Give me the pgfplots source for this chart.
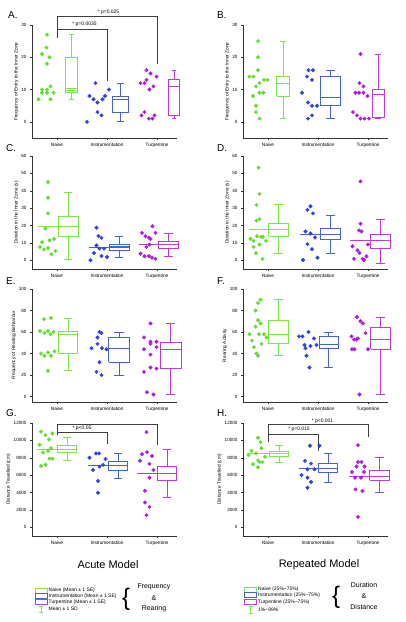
\documentclass[border=0pt]{standalone}
\usepackage{pgfplots}
\pgfplotsset{compat=1.18}
\usepackage{fontspec}
\setmainfont{Liberation Sans}
\newcommand\fs[1]{\fontsize{#1}{#1}\selectfont}
\definecolor{gP}{RGB}{102,221,51}
\definecolor{gB}{RGB}{125,230,75}
\definecolor{bP}{RGB}{51,68,221}
\definecolor{bB}{RGB}{68,100,210}
\definecolor{pP}{RGB}{170,34,221}
\definecolor{pB}{RGB}{185,60,225}
\pgfplotsset{
  panel/.style={
    scale only axis, width=145bp, height=113bp,
    anchor=south west,
    xmin=-0.5, xmax=2.4,
    axis x line*=bottom, axis y line*=left,
    axis line style={black!80, line width=0.6bp},
    xtick={0,1,2}, xticklabels={Naive,Instrumentation,Turpentine},
    tick align=outside, major tick length=2bp,
    tick style={black!80, line width=0.5bp},
    ticklabel style={font=\fs{4.6}},
    xticklabel style={font=\fs{4.8}},
    ylabel style={font=\fs{4.8}, yshift=-4bp},
    /pgf/number format/assume math mode=true,
    /pgf/number format/1000 sep={},
    scaled y ticks=false,
    clip=false,
  },
  pts/.style={only marks, mark=*, mark size=1.8bp},
  brk/.style={black!75, line width=0.7bp},
  bxl/.style={line width=0.8bp, line join=miter, mark=none},
}
% box: colour, position, width, lower whisker, lower quartile, median, upper quartile, upper whisker
\newcommand\bx[8]{%
  \pgfmathsetmacro\xa{#2-#3/2}\pgfmathsetmacro\xb{#2+#3/2}%
  \pgfmathsetmacro\ca{#2-#3*0.22}\pgfmathsetmacro\cb{#2+#3*0.22}%
  \edef\tmp{%
    \noexpand\addplot[#1, bxl] coordinates {(\xa,#5) (\xb,#5) (\xb,#7) (\xa,#7) (\xa,#5)};
    \noexpand\addplot[#1, bxl] coordinates {(\xa,#6) (\xb,#6)};
    \noexpand\addplot[#1, bxl] coordinates {(#2,#7) (#2,#8)};
    \noexpand\addplot[#1, bxl] coordinates {(#2,#5) (#2,#4)};
    \noexpand\addplot[#1, bxl] coordinates {(\ca,#8) (\cb,#8)};
    \noexpand\addplot[#1, bxl] coordinates {(\ca,#4) (\cb,#4)};
  }\tmp}
\newcommand\ml[4]{\addplot[#1, bxl] coordinates {(#2,#4) (#3,#4)};}
\begin{document}
\begin{tikzpicture}
\useasboundingbox (0,0) rectangle (406bp,622bp);

% ---------------- A ----------------
\begin{axis}[panel, at={(32bp,484bp)}, ymin=-5, ymax=30, ytick={0,10,20,30},
  ylabel={Frequency of Entry to the Inner Zone}]
\addplot[pts, gP] coordinates {(-0.20,27) (-0.21,23) (-0.30,21) (-0.15,20) (-0.20,18) (-0.13,11) (-0.30,10) (-0.20,10) (-0.30,9) (-0.20,9) (-0.07,9) (-0.37,7) (-0.13,7)};
\bx{gB}{0.29}{0.24}{7}{9}{10.3}{20}{27}
\ml{gB}{0.17}{0.41}{9.6}
\addplot[pts, bP] coordinates {(0.77,12) (1.04,10) (0.65,8) (0.96,8) (0.73,7) (0.91,7) (0.81,6) (0.81,3) (0.89,2) (0.60,0)};
\bx{bB}{1.27}{0.32}{0}{3}{7}{8}{12}
\addplot[pts, pP] coordinates {(1.79,16) (1.87,15) (1.99,14) (1.79,13) (1.67,12) (1.75,12) (1.93,11) (1.85,10) (1.75,3) (1.69,2) (1.95,2) (1.84,1) (1.91,1)};
\bx{pB}{2.34}{0.22}{1}{2}{11}{13}{16}
\addplot[brk] coordinates {(0,26) (0,28.7) (1,28.7) (1,12.5)};
\addplot[brk] coordinates {(0,28.7) (0,32.6) (2,32.6) (2,18)};
\node[font=\fs{5}] at (axis cs:0.55,30.3) {* p=0.0035};
\node[font=\fs{5}] at (axis cs:1.03,34.0) {* p=0.025};
\end{axis}

% ---------------- B ----------------
\begin{axis}[panel, at={(243bp,484bp)}, ymin=-5, ymax=30, ytick={0,10,20,30},
  ylabel={Frequency of Entry to the Inner Zone}]
\addplot[pts, gP] coordinates {(-0.20,25) (-0.20,20) (-0.20,16) (-0.37,14) (-0.29,14) (-0.08,13) (-0.01,13) (-0.17,12) (-0.24,11) (-0.17,9) (-0.09,9) (-0.30,8) (-0.24,5) (-0.24,3) (-0.17,1)};
\bx{gB}{0.30}{0.26}{1}{8}{12}{14}{25}
\addplot[pts, bP] coordinates {(0.81,16) (0.90,16) (0.78,14) (0.88,13) (0.68,9) (0.80,6) (0.88,5) (0.98,5) (0.88,2) (0.80,1)};
\bx{bB}{1.25}{0.40}{1}{5}{7.5}{14}{16}
\addplot[pts, pP] coordinates {(1.85,21) (1.83,12) (1.91,11) (1.75,9) (1.82,9) (1.91,9) (1.99,8) (1.70,3) (1.78,2) (1.85,1) (1.93,1) (2.02,1)};
\bx{pB}{2.20}{0.24}{1}{1.3}{8.5}{10}{21}
\end{axis}

% ---------------- C ----------------
\begin{axis}[panel, at={(32bp,353bp)}, ymin=-5, ymax=60, ytick={0,10,...,60},
  ylabel={Duration in the Inner Zone (s)}]
\addplot[pts, gP] coordinates {(-0.18,45) (-0.18,36) (-0.18,27) (-0.23,18.3) (-0.06,12.3) (-0.15,11.5) (-0.30,10.4) (-0.34,7.7) (-0.18,7.1) (-0.26,6.2) (-0.03,5.4) (-0.11,3.5)};
\ml{gB}{-0.38}{0.42}{19.6}
\bx{gB}{0.22}{0.40}{0.6}{14}{19.6}{25}{39}
\addplot[pts, bP] coordinates {(0.79,18.7) (0.83,14) (0.89,12.9) (0.79,8.5) (0.85,6.7) (0.94,6.7) (0.74,4.2) (0.89,2.5) (1.00,1.9) (0.67,0)};
\ml{bB}{0.64}{1.44}{7.7}
\bx{bB}{1.24}{0.40}{1.5}{5.8}{8}{9.4}{13.5}
\addplot[pts, pP] coordinates {(1.91,19.6) (1.70,15.8) (1.97,15.8) (1.77,13.8) (1.84,13) (1.87,12.3) (1.79,7.7) (1.85,9) (1.67,3.8) (1.75,2.3) (1.84,2.5) (1.90,1.5) (1.97,0.8)};
\ml{pB}{1.64}{2.43}{9.2}
\bx{pB}{2.23}{0.40}{2.5}{7.1}{9.2}{10.8}{15.4}
\end{axis}

% ---------------- D ----------------
\begin{axis}[panel, at={(243bp,353bp)}, ymin=-5, ymax=60, ytick={0,10,...,60},
  ylabel={Duration in the Inner Zone (s)}]
\addplot[pts, gP] coordinates {(-0.19,53.3) (-0.17,38.2) (-0.23,31.9) (-0.17,23.7) (-0.23,22.8) (-0.22,13.9) (-0.14,13.5) (-0.10,13.5) (-0.35,12.4) (-0.29,11.2) (-0.04,11.2) (-0.17,9.1) (-0.29,7.7) (-0.24,4.1) (-0.11,0.8)};
\ml{gB}{-0.39}{0.40}{17.8}
\bx{gB}{0.21}{0.39}{3.9}{13.7}{17.8}{21.4}{31.9}
\addplot[pts, bP] coordinates {(0.85,31.1) (0.79,29) (0.90,27) (0.75,16.6) (0.85,15.4) (0.94,13.1) (0.79,9.3) (0.88,6.4) (0.99,1.5) (0.70,0.2)};
\ml{bB}{0.63}{1.45}{15}
\bx{bB}{1.25}{0.40}{3.9}{11.8}{15}{18.5}{26}
\addplot[pts, pP] coordinates {(1.85,45.4) (1.85,21) (1.82,17.2) (1.87,16.6) (2.00,9.1) (1.69,8.1) (1.79,5.8) (1.83,4.2) (1.72,0.8) (1.89,0.8) (1.97,2.3) (1.92,0.2)};
\ml{pB}{1.64}{2.46}{11.2}
\bx{pB}{2.25}{0.41}{-1.9}{7}{11.2}{14.7}{23.7}
\end{axis}

% ---------------- E ----------------
\begin{axis}[panel, at={(32bp,220bp)}, ymin=-5, ymax=100, ytick={0,20,...,100},
  ylabel={Frequency of Rearing Behaviour}]
\addplot[pts, gP] coordinates {(-0.12,73) (-0.26,72) (-0.34,61) (-0.18,61) (-0.07,60) (-0.25,59) (-0.13,58) (-0.05,42) (-0.18,41) (-0.32,40) (-0.25,38) (-0.12,38) (-0.18,24)};
\bx{gB}{0.22}{0.39}{24}{40}{58}{61}{73}
\addplot[pts, bP] coordinates {(0.85,60) (0.89,59) (0.81,55) (0.81,49) (0.69,45) (0.90,45) (0.99,44) (0.85,32) (0.79,23) (0.89,20)};
\bx{bB}{1.24}{0.41}{20}{32}{45}{55}{60}
\addplot[pts, pP] coordinates {(1.87,68) (1.74,55) (1.87,51) (1.99,51) (1.87,49) (1.99,46) (1.74,44) (1.87,39) (1.87,27) (1.99,26) (1.74,23) (1.80,4) (1.93,2)};
\bx{pB}{2.27}{0.42}{2}{26}{44}{50}{68}
\end{axis}

% ---------------- F ----------------
\begin{axis}[panel, at={(243bp,220bp)}, ymin=-5, ymax=100, ytick={0,20,...,100},
  ylabel={Rearing Activity}]
\addplot[pts, gP] coordinates {(-0.15,90) (-0.20,87) (-0.25,80) (-0.20,71) (-0.15,68) (-0.25,65) (-0.37,58) (-0.18,58) (-0.08,58) (-0.03,55) (-0.32,52) (-0.13,49) (-0.28,46) (-0.23,40) (-0.20,38)};
\bx{gB}{0.21}{0.39}{38}{49}{58}{71}{90}
\addplot[pts, bP] coordinates {(0.81,60) (0.62,56) (0.69,56) (0.92,54) (0.73,48) (0.97,48) (0.85,47) (0.75,45) (0.77,38) (0.83,27)};
\bx{bB}{1.21}{0.38}{27}{45}{48.4}{56}{60}
\addplot[pts, pP] coordinates {(1.78,74) (1.85,70) (1.90,68) (1.95,59) (1.67,56) (1.80,54) (1.72,53) (1.77,53) (1.68,44) (1.73,44) (2.00,44) (1.83,2)};
\bx{pB}{2.25}{0.39}{2}{44}{53.4}{64}{74}
\end{axis}

% ---------------- G (values in thousands of cm) ----------------
\begin{axis}[panel, at={(32bp,86bp)}, ymin=-1, ymax=12, ytick={0,2,...,12},
  yticklabels={0,2000,4000,6000,8000,10000,12000},
  ylabel={Distance Travelled (cm)}]
\addplot[pts, gP] coordinates {(-0.32,11.0) (-0.09,10.8) (-0.23,10.6) (-0.16,10.1) (-0.35,9.5) (-0.12,9.1) (-0.18,8.8) (-0.28,8.6) (-0.15,7.9) (-0.09,7.9) (-0.23,7.2) (-0.32,7.05)};
\ml{gB}{-0.39}{0.39}{9.0}
\bx{gB}{0.20}{0.38}{7.64}{8.6}{9.0}{9.38}{10.34}
\addplot[pts, bP] coordinates {(0.78,8.5) (0.84,8.5) (0.65,8.0) (0.97,7.85) (0.85,6.98) (0.92,7.18) (0.72,6.6) (0.82,5.32) (0.82,3.98)};
\ml{bB}{0.62}{1.41}{7.1}
\bx{bB}{1.22}{0.39}{5.63}{6.6}{7.1}{7.56}{8.53}
\addplot[pts, pP] coordinates {(1.79,10.95) (1.80,8.65) (1.70,8.4) (1.90,8.2) (1.66,7.65) (1.85,7.3) (1.93,6.6) (1.85,5.7) (1.76,4.2) (1.76,2.85) (1.85,2.35) (1.79,1.4)};
\ml{pB}{1.61}{2.39}{6.21}
\bx{pB}{2.20}{0.38}{3.4}{5.44}{6.21}{6.99}{8.99}
\addplot[brk] coordinates {(0,10.57) (0,11.8) (2,11.8) (2,9.49)};
\addplot[brk] coordinates {(0,10.96) (1,10.96) (1,9.61)};
\node[font=\fs{5}] at (axis cs:0.5,11.42) {* p<0.05};
\end{axis}

% ---------------- H (values in thousands of cm) ----------------
\begin{axis}[panel, at={(243bp,86bp)}, ymin=-1, ymax=12, ytick={0,2,...,12},
  yticklabels={0,2000,4000,6000,8000,10000,12000},
  ylabel={Distance Travelled (cm)}]
\addplot[pts, gP] coordinates {(-0.20,10.3) (-0.15,9.8) (-0.13,9.1) (-0.33,8.8) (-0.24,8.5) (-0.39,8.3) (-0.06,8.1) (-0.20,7.7) (-0.17,7.5) (-0.11,7.5) (-0.30,7.25) (-0.20,6.9)};
\ml{gB}{-0.43}{0.41}{8.49}
\bx{gB}{0.22}{0.38}{7.52}{8.14}{8.49}{8.72}{9.38}
\addplot[pts, bP] coordinates {(0.84,9.38) (1.03,9.38) (0.74,7.64) (0.86,7.33) (0.79,6.68) (0.93,6.68) (0.67,6.02) (0.79,5.71) (0.86,5.21) (0.79,4.55)};
\ml{bB}{0.61}{1.39}{6.79}
\bx{bB}{1.20}{0.38}{5.21}{6.29}{6.79}{7.33}{8.49}
\addplot[pts, pP] coordinates {(1.80,9.45) (1.80,7.52) (1.87,7.52) (1.77,6.99) (1.93,6.99) (1.68,6.37) (1.92,6.37) (1.74,5.71) (1.86,5.71) (1.75,4.36) (1.89,4.17) (1.80,1.2)};
\ml{pB}{1.61}{2.43}{5.9}
\bx{pB}{2.23}{0.40}{3.98}{5.4}{5.9}{6.56}{8.03}
\addplot[brk] coordinates {(0,9.76) (0,11.88) (2,11.88) (2,10.34)};
\addplot[brk] coordinates {(0,10.73) (1,10.73) (1,8.8)};
\node[font=\fs{5}] at (axis cs:0.62,11.23) {* p=0.015};
\node[font=\fs{5}] at (axis cs:1.09,12.25) {* p<0.001};
\end{axis}

% ---------------- panel letters ----------------
\node[anchor=north west, inner sep=0, font=\fs{10}] at (8bp,611bp) {A.};
\node[anchor=north west, inner sep=0, font=\fs{10}] at (217bp,611bp) {B.};
\node[anchor=north west, inner sep=0, font=\fs{10}] at (6bp,478bp) {C.};
\node[anchor=north west, inner sep=0, font=\fs{10}] at (217bp,478bp) {D.};
\node[anchor=north west, inner sep=0, font=\fs{10}] at (6bp,345bp) {E.};
\node[anchor=north west, inner sep=0, font=\fs{10}] at (217bp,345bp) {F.};
\node[anchor=north west, inner sep=0, font=\fs{10}] at (6bp,213bp) {G.};
\node[anchor=north west, inner sep=0, font=\fs{10}] at (217bp,213bp) {H.};

% ---------------- bottom titles and legends ----------------
\node[font=\fs{11}] at (108bp,57bp) {Acute Model};
\node[font=\fs{11}] at (319bp,57bp) {Repeated Model};

\draw[gB, line width=0.8bp] (35bp,29bp) rectangle (47bp,34bp);
\draw[bB, line width=0.8bp] (35bp,23.5bp) rectangle (47bp,28.5bp);
\draw[pB, line width=0.8bp] (35bp,17.5bp) rectangle (47bp,22.5bp);
\draw[gB, line width=0.8bp] (41bp,10bp)--(41bp,15.5bp) (39bp,10bp)--(43bp,10bp) (39bp,15.5bp)--(43bp,15.5bp);
\node[anchor=west, inner sep=0, font=\fs{5}] at (48.5bp,31.5bp) {Naive (Mean ± 1 SE)};
\node[anchor=west, inner sep=0, font=\fs{5}] at (48.5bp,26bp) {Instrumentation (Mean ± 1 SE)};
\node[anchor=west, inner sep=0, font=\fs{5}] at (48.5bp,20bp) {Turpentine (Mean ± 1 SE)};
\node[anchor=west, inner sep=0, font=\fs{5}] at (48.5bp,13bp) {Mean ± 1 SD};
\node[font=\fs{24}] at (126bp,23bp) {\{};
\node[font=\fs{7}, inner sep=0] at (154bp,35bp) {Frequency};
\node[font=\fs{7}, inner sep=0] at (154bp,24bp) {\&};
\node[font=\fs{7}, inner sep=0] at (154bp,13bp) {Rearing};

\draw[gB, line width=0.8bp] (244.5bp,30bp) rectangle (256.5bp,35bp);
\draw[bB, line width=0.8bp] (244.5bp,24.5bp) rectangle (256.5bp,29.5bp);
\draw[pB, line width=0.8bp] (244.5bp,17.5bp) rectangle (256.5bp,22.5bp);
\draw[gB, line width=0.8bp] (250.5bp,9bp)--(250.5bp,15.5bp) (248.5bp,9bp)--(252.5bp,9bp) (248.5bp,15.5bp)--(252.5bp,15.5bp);
\node[anchor=west, inner sep=0, font=\fs{5}] at (258bp,32.5bp) {Naive (25\%\textasciitilde75\%)};
\node[anchor=west, inner sep=0, font=\fs{5}] at (258bp,27bp) {Instrumentation (25\%\textasciitilde75\%)};
\node[anchor=west, inner sep=0, font=\fs{5}] at (258bp,20bp) {Turpentine (25\%\textasciitilde75\%)};
\node[anchor=west, inner sep=0, font=\fs{5}] at (258bp,12bp) {1\%\textasciitilde99\%};
\node[font=\fs{24}] at (336bp,25bp) {\{};
\node[font=\fs{7}, inner sep=0] at (364bp,37bp) {Duration};
\node[font=\fs{7}, inner sep=0] at (364bp,26bp) {\&};
\node[font=\fs{7}, inner sep=0] at (364bp,15bp) {Distance};
\end{tikzpicture}
\end{document}
